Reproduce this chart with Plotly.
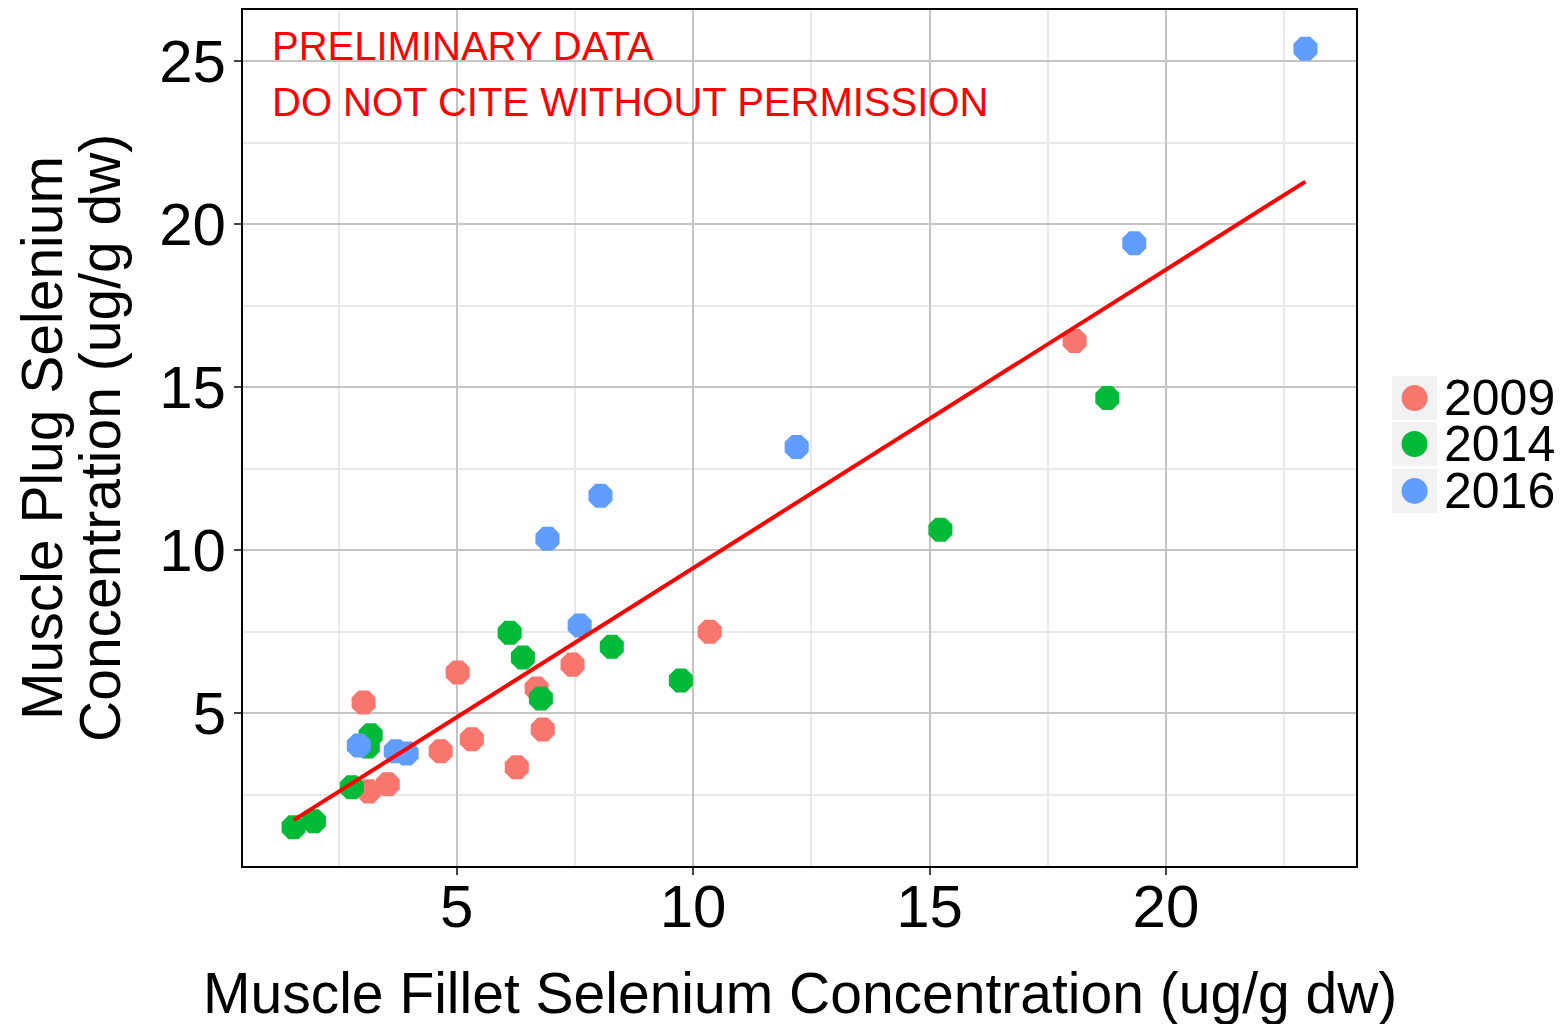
import numpy as np
import plotly.graph_objects as go

# ---- data ----
x_2009 = [18.07, 10.35, 5.02, 7.45, 6.69, 3.03, 6.82, 5.32, 4.66, 6.27, 3.54, 3.14]
y_2009 = [16.42, 7.50, 6.25, 6.49, 5.76, 5.33, 4.50, 4.20, 3.83, 3.34, 2.82, 2.60]

x_2014 = [18.76, 15.23, 6.12, 6.40, 8.28, 9.74, 6.78, 3.18, 3.12, 2.78, 1.55, 1.98]
y_2014 = [14.67, 10.63, 7.47, 6.71, 7.04, 6.00, 5.45, 4.32, 3.98, 2.73, 1.50, 1.68]

x_2016 = [22.95, 19.33, 12.19, 8.04, 6.92, 7.60, 2.93, 3.71, 3.94]
y_2016 = [25.39, 19.42, 13.17, 11.67, 10.35, 7.69, 4.01, 3.83, 3.76]

years = ["2009", "2014", "2016"]
colors = ["#F8766D", "#00BA38", "#619CFF"]
x_ticks = [5, 10, 15, 20]
y_ticks = [5, 10, 15, 20, 25]

series = [(x_2009, y_2009), (x_2014, y_2014), (x_2016, y_2016)]

fig = go.Figure()
for (xs, ys), name, col in zip(series, years, colors):
    fig.add_trace(go.Scatter(
        x=xs, y=ys, mode="markers", name=name, showlegend=False,
        marker=dict(color=col, size=26, symbol="octagon", line=dict(width=0)),
    ))

# linear fit over all points
all_x = np.array(x_2009 + x_2014 + x_2016)
all_y = np.array(y_2009 + y_2014 + y_2016)
slope, intercept = np.polyfit(all_x, all_y, 1)
fx = np.array([all_x.min(), all_x.max()])
fig.add_trace(go.Scatter(x=fx, y=slope * fx + intercept, mode="lines",
                         line=dict(color="#FF0000", width=4), showlegend=False,
                         hoverinfo="skip"))

FONT = "Liberation Sans, Arial, sans-serif"

axis_common = dict(
    showline=True, linecolor="black", linewidth=2, mirror=True,
    showgrid=True, gridcolor="#c4c4c4", gridwidth=2,
    ticks="outside", ticklen=7, tickcolor="#444444", tickwidth=1.5,
    zeroline=False,
    tickfont=dict(family=FONT, size=60, color="black"),
)

fig.update_xaxes(range=[0.48, 24.02], tickvals=x_ticks, ticklabelstandoff=-20,
                 minor=dict(dtick=2.5, tick0=0, showgrid=True,
                            gridcolor="#e8e8e8", gridwidth=1.5, ticks=""),
                 **axis_common)
fig.update_yaxes(range=[0.31, 26.58], tickvals=y_ticks, ticklabelstandoff=-4,
                 minor=dict(dtick=2.5, tick0=0, showgrid=True,
                            gridcolor="#e8e8e8", gridwidth=1.5, ticks=""),
                 **axis_common)

annotations = [
    dict(text="PRELIMINARY DATA", x=0.024, y=0.958, xref="paper", yref="paper",
         xanchor="left", yanchor="middle", showarrow=False,
         font=dict(family=FONT, size=40, color="#FF0000")),
    dict(text="DO NOT CITE WITHOUT PERMISSION", x=0.024, y=0.8925, xref="paper", yref="paper",
         xanchor="left", yanchor="middle", showarrow=False,
         font=dict(family=FONT, size=40, color="#FF0000")),
    dict(text="Muscle Fillet Selenium Concentration (ug/g dw)", x=0.5, y=-0.148,
         xref="paper", yref="paper", xanchor="center", yanchor="middle", showarrow=False,
         font=dict(family=FONT, size=57, color="black")),
    dict(text="Muscle Plug Selenium", x=-0.1806, y=0.5, xref="paper", yref="paper",
         xanchor="center", yanchor="middle", textangle=-90, showarrow=False,
         font=dict(family=FONT, size=57, color="black")),
    dict(text="Concentration (ug/g dw)", x=-0.1285, y=0.5, xref="paper", yref="paper",
         xanchor="center", yanchor="middle", textangle=-90, showarrow=False,
         font=dict(family=FONT, size=57, color="black")),
]

# ---- legend (ggplot-style keys with grey background) ----
shapes = []
legend_y = [0.5466, 0.4930, 0.4382]
for name, col, yc in zip(years, colors, legend_y):
    shapes.append(dict(type="rect", xref="paper", yref="paper",
                       xsizemode="pixel", ysizemode="pixel",
                       xanchor=1.0526, yanchor=yc, x0=-22.5, x1=22.5, y0=-22, y1=22,
                       fillcolor="#f2f2f2", line=dict(width=0), layer="below"))
    shapes.append(dict(type="circle", xref="paper", yref="paper",
                       xsizemode="pixel", ysizemode="pixel",
                       xanchor=1.0526, yanchor=yc, x0=-13, x1=13, y0=-13, y1=13,
                       fillcolor=col, line=dict(width=0)))
    annotations.append(dict(text=name, x=1.0782, y=yc, xref="paper", yref="paper",
                            xanchor="left", yanchor="middle", showarrow=False,
                            height=44, valign="middle", borderpad=0,
                            font=dict(family=FONT, size=50, color="black")))

fig.update_layout(
    width=1566, height=1024,
    margin=dict(l=243, r=210, t=8, b=158),
    plot_bgcolor="white", paper_bgcolor="white",
    annotations=annotations,
    shapes=shapes,
    showlegend=False,
)

fig.write_html("out.html", config={"displayModeBar": False},
               post_script="document.body.style.margin='0';")
